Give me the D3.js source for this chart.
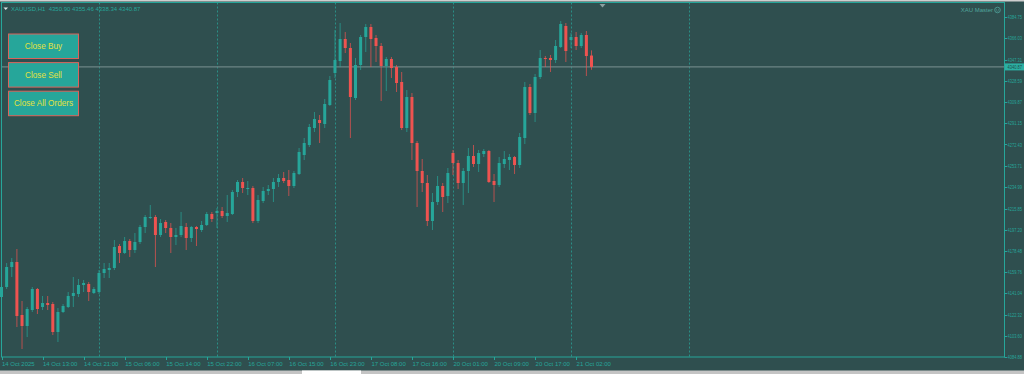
<!DOCTYPE html>
<html>
<head>
<meta charset="utf-8">
<script src="https://cdn.jsdelivr.net/npm/d3@7"></script>
<style>
html, body { margin: 0; padding: 0; background: #2f4f4f; overflow: hidden; }
svg { display: block; }
text { font-family: "Liberation Sans", "DejaVu Sans", sans-serif; }
</style>
</head>
<body>
<svg id="chart"></svg>
<script>
var W = 1024, H = 374;
var plot = { left: 1.5, top: 2.5, right: 1004.5, bottom: 357 };

var bg = "#2f4f4f", bull = "#26a69a", bear = "#ef5350", axisCol = "#26a69a";

// trading sessions shown on the time axis: day, first hour, last hour
var sessions = [
	["14 Oct", 5, 23], ["15 Oct", 1, 23], ["16 Oct", 1, 23], ["17 Oct", 1, 23],
	["20 Oct", 1, 23], ["21 Oct", 1, 23], ["22 Oct", 1, 23]
];

// XAUUSD H1 candles, 14 Oct 05:00 -> 21 Oct 05:00
var opens = [
	4137.84, 4146.67, 4164.31, 4168.72, 4121.96, 4112.25, 4126.37, 4144.90, 4129.02, 4132.55,
	4131.67, 4106.96, 4124.61, 4129.02, 4138.72, 4140.49, 4148.43, 4149.31, 4141.37, 4142.25,
	4159.02, 4161.67, 4163.43, 4182.84, 4176.67, 4187.25, 4179.31, 4186.37, 4199.61, 4207.55,
	4208.43, 4192.55, 4204.02, 4198.72, 4190.78, 4192.55, 4199.61, 4189.90, 4199.61, 4196.96,
	4201.37, 4211.08, 4211.96, 4213.72, 4209.31, 4211.08, 4230.49, 4239.31, 4233.14, 4234.02,
	4204.90, 4222.55, 4231.37, 4233.14, 4239.31, 4242.84, 4241.08, 4235.78, 4246.37, 4263.14,
	4271.96, 4286.96, 4294.02, 4290.49, 4307.25, 4335.49, 4346.08, 4365.49, 4357.55, 4313.43,
	4342.55, 4367.25, 4376.08, 4366.37, 4359.31, 4341.66, 4347.84, 4340.78, 4327.55, 4286.96,
	4314.31, 4273.72, 4249.02, 4238.43, 4204.90, 4221.67, 4235.78, 4226.96, 4264.90, 4256.08,
	4238.43, 4249.02, 4262.25, 4255.19, 4264.02, 4266.67, 4240.20, 4236.67, 4255.19, 4258.72,
	4261.37, 4254.31, 4278.14, 4323.14, 4300.19, 4331.96, 4348.72, 4348.72, 4346.96, 4358.43,
	4376.96, 4364.61, 4367.25, 4359.31, 4369.02, 4350.90
];
var highs = [
	4149.31, 4167.84, 4172.25, 4180.20, 4134.31, 4129.02, 4146.67, 4145.78, 4138.72, 4138.72,
	4133.43, 4128.14, 4131.67, 4142.25, 4155.49, 4153.73, 4152.84, 4151.08, 4146.67, 4161.67,
	4167.84, 4167.84, 4188.14, 4184.61, 4190.78, 4189.02, 4194.31, 4201.37, 4210.19, 4219.02,
	4210.19, 4206.67, 4205.78, 4203.14, 4198.72, 4212.84, 4203.14, 4200.49, 4200.49, 4204.90,
	4212.84, 4212.84, 4216.37, 4217.25, 4227.84, 4232.25, 4241.08, 4242.84, 4240.20, 4235.78,
	4227.84, 4234.90, 4236.67, 4242.84, 4246.37, 4248.14, 4249.90, 4249.02, 4269.31, 4278.14,
	4290.49, 4301.08, 4298.43, 4312.55, 4332.84, 4373.43, 4379.61, 4371.66, 4361.96, 4348.72,
	4369.02, 4378.72, 4378.72, 4369.02, 4361.96, 4349.61, 4349.61, 4342.55, 4336.37, 4320.49,
	4317.84, 4275.49, 4259.61, 4245.49, 4229.61, 4244.61, 4238.43, 4251.67, 4267.55, 4258.72,
	4251.67, 4269.31, 4271.96, 4267.55, 4268.43, 4267.55, 4246.37, 4261.37, 4266.67, 4264.02,
	4262.25, 4282.55, 4327.55, 4325.78, 4334.61, 4355.78, 4350.49, 4351.37, 4364.61, 4381.37,
	4379.61, 4370.78, 4371.66, 4370.78, 4372.55, 4355.46
];
var lows = [
	4135.20, 4144.90, 4155.49, 4111.37, 4091.96, 4102.55, 4124.61, 4122.84, 4126.37, 4126.37,
	4104.31, 4098.14, 4123.73, 4128.14, 4129.02, 4137.84, 4142.25, 4134.31, 4140.49, 4140.49,
	4154.61, 4154.61, 4161.67, 4167.84, 4175.78, 4173.14, 4176.67, 4184.61, 4194.31, 4206.67,
	4164.31, 4190.78, 4194.31, 4176.67, 4183.72, 4190.78, 4179.31, 4186.37, 4182.84, 4195.19,
	4200.49, 4204.02, 4198.72, 4207.55, 4204.02, 4210.19, 4226.08, 4229.61, 4227.84, 4203.14,
	4203.14, 4220.78, 4227.84, 4221.67, 4234.90, 4238.43, 4226.96, 4234.02, 4245.49, 4258.72,
	4270.19, 4283.43, 4273.72, 4286.96, 4306.37, 4331.08, 4340.78, 4353.14, 4278.14, 4311.66,
	4338.14, 4354.02, 4340.78, 4345.19, 4310.78, 4319.61, 4331.08, 4318.72, 4285.19, 4283.43,
	4258.72, 4217.25, 4230.49, 4200.49, 4196.96, 4219.02, 4212.84, 4220.78, 4245.49, 4233.14,
	4219.02, 4229.61, 4252.55, 4248.14, 4261.37, 4238.43, 4221.67, 4234.90, 4251.67, 4249.90,
	4246.37, 4251.67, 4272.84, 4298.43, 4292.25, 4330.19, 4340.78, 4336.37, 4344.31, 4357.55,
	4345.19, 4357.55, 4355.78, 4357.55, 4332.84, 4338.34
];
var closes = [
	4146.67, 4164.31, 4168.72, 4121.08, 4112.25, 4127.25, 4144.90, 4127.25, 4132.55, 4130.78,
	4106.96, 4124.61, 4129.90, 4138.72, 4141.37, 4148.43, 4150.20, 4142.25, 4144.90, 4159.02,
	4162.55, 4163.43, 4181.96, 4176.67, 4187.25, 4179.31, 4186.37, 4199.61, 4208.43, 4208.43,
	4192.55, 4203.14, 4198.72, 4190.78, 4192.55, 4200.49, 4189.90, 4199.61, 4197.84, 4201.37,
	4211.08, 4206.67, 4213.72, 4209.31, 4211.96, 4230.49, 4239.31, 4234.02, 4234.02, 4204.90,
	4223.43, 4231.37, 4233.14, 4239.31, 4242.84, 4240.20, 4235.78, 4247.25, 4265.78, 4273.72,
	4287.84, 4294.90, 4291.37, 4308.14, 4329.31, 4346.96, 4365.49, 4357.55, 4314.31, 4342.55,
	4367.25, 4376.08, 4365.49, 4359.31, 4341.66, 4347.84, 4339.90, 4326.66, 4286.96, 4314.31,
	4273.72, 4249.02, 4238.43, 4204.90, 4221.67, 4235.78, 4226.08, 4247.25, 4256.08, 4238.43,
	4249.02, 4262.25, 4255.19, 4264.90, 4266.67, 4239.31, 4236.67, 4256.08, 4259.61, 4261.37,
	4254.31, 4279.02, 4323.14, 4300.19, 4331.96, 4348.72, 4347.84, 4346.96, 4359.31, 4378.72,
	4354.90, 4367.25, 4359.31, 4369.02, 4350.49, 4340.87
];

var priceTicks = [
	4384.75, 4366.03, 4347.31, 4328.59, 4309.87, 4291.15, 4272.43, 4253.71, 4234.99,
	4215.85, 4197.20, 4178.48, 4159.76, 4141.04, 4122.32, 4103.60, 4084.88
];
var timeTicks = [
	"14 Oct 05:00", "14 Oct 13:00", "14 Oct 21:00", "15 Oct 06:00", "15 Oct 14:00",
	"15 Oct 22:00", "16 Oct 07:00", "16 Oct 15:00", "16 Oct 23:00", "17 Oct 08:00",
	"17 Oct 16:00", "20 Oct 01:00", "20 Oct 09:00", "20 Oct 17:00", "21 Oct 02:00"
];
var firstTickLabel = "14 Oct 2025";
var buttons = ["Close Buy", "Close Sell", "Close All Orders"];
var symbolTitle = "XAUUSD,H1";
var eaName = "XAU Master";

function pad(h) { return (h < 10 ? "0" : "") + h + ":00"; }

var barKeys = [];
sessions.forEach(function(s) {
	for (var h = s[1]; h <= s[2]; h++) barKeys.push(s[0] + " " + pad(h));
});

var candles = opens.map(function(o, i) {
	return { key: barKeys[i], o: o, h: highs[i], l: lows[i], c: closes[i] };
});

var barStep = 118 / 23;
var x = d3.scalePoint()
	.domain(barKeys)
	.range([plot.left, plot.left + (barKeys.length - 1) * barStep]);

var y = d3.scaleLinear()
	.domain([4084.9, 4384.9])
	.range([357, 17]);

var fmt = d3.format(".2f");

var svg = d3.select("#chart").attr("width", W).attr("height", H);

svg.append("rect").attr("width", W).attr("height", H).attr("fill", bg);

// top and bottom window strips
svg.append("rect").attr("x", 0).attr("y", 0).attr("width", W).attr("height", 1.5).attr("fill", "#cfcfcf");
svg.append("rect").attr("x", 0).attr("y", 370.5).attr("width", W).attr("height", 3.5).attr("fill", "#c4c4c4");
svg.append("rect").attr("x", 302).attr("y", 370.5).attr("width", 59).attr("height", 3.5).attr("fill", "#ffffff");

// daily grid lines at 01:00
var gridKeys = barKeys.filter(function(k) { return /01:00$/.test(k) && k.indexOf("14 Oct") < 0; });
svg.append("g")
	.selectAll("line")
	.data(gridKeys)
	.enter()
	.append("line")
	.attr("x1", function(d) { return Math.round(x(d)) + 0.5; })
	.attr("x2", function(d) { return Math.round(x(d)) + 0.5; })
	.attr("y1", plot.top)
	.attr("y2", plot.bottom)
	.attr("stroke", "#2a8f86")
	.attr("stroke-width", 1)
	.attr("stroke-dasharray", "2,2");

// bid line
var last = candles[candles.length - 1];
svg.append("line")
	.attr("x1", plot.left)
	.attr("x2", plot.right)
	.attr("y1", y(last.c))
	.attr("y2", y(last.c))
	.attr("stroke", "#6d8484")
	.attr("stroke-width", 1.2);

// candles
var cg = svg.append("g").attr("class", "candles");
var bw = 3;

cg.selectAll(".wick")
	.data(candles)
	.enter()
	.append("rect")
	.attr("class", "wick")
	.attr("x", function(d) { return x(d.key) - 0.5; })
	.attr("y", function(d) { return y(d.h); })
	.attr("width", 1)
	.attr("height", function(d) { return Math.max(1, y(d.l) - y(d.h)); })
	.attr("fill", function(d) { return d.c >= d.o ? bull : bear; })
	.attr("opacity", 0.7);

cg.selectAll(".body")
	.data(candles)
	.enter()
	.append("rect")
	.attr("class", "body")
	.attr("x", function(d) { return x(d.key) - bw / 2; })
	.attr("y", function(d) { return y(Math.max(d.o, d.c)); })
	.attr("width", bw)
	.attr("height", function(d) { return Math.max(1, Math.abs(y(d.o) - y(d.c))); })
	.attr("fill", function(d) { return d.c >= d.o ? bull : bear; });

// frame
svg.append("rect")
	.attr("x", plot.left)
	.attr("y", plot.top)
	.attr("width", plot.right - plot.left)
	.attr("height", plot.bottom - plot.top)
	.attr("fill", "none")
	.attr("stroke", axisCol)
	.attr("stroke-width", 1);

// price axis (labels squeezed into the narrow strip right of the frame)
var pa = svg.append("g").attr("class", "price-axis");
pa.selectAll("line")
	.data(priceTicks)
	.enter()
	.append("line")
	.attr("x1", plot.right)
	.attr("x2", plot.right + 2.5)
	.attr("y1", function(d) { return Math.round(y(d)) + 0.5; })
	.attr("y2", function(d) { return Math.round(y(d)) + 0.5; })
	.attr("stroke", axisCol);
pa.selectAll("text")
	.data(priceTicks)
	.enter()
	.append("text")
	.attr("x", plot.right + 3)
	.attr("y", function(d) { return y(d) + 2.1; })
	.attr("font-size", 5.8)
	.attr("textLength", 14.5)
	.attr("lengthAdjust", "spacingAndGlyphs")
	.attr("fill", axisCol)
	.text(fmt);

// current price tag
svg.append("rect")
	.attr("x", plot.right + 0.5)
	.attr("y", y(last.c) - 3.5)
	.attr("width", W - plot.right)
	.attr("height", 7)
	.attr("fill", "#2bb0a3");
svg.append("text")
	.attr("x", plot.right + 3)
	.attr("y", y(last.c) + 2.1)
	.attr("font-size", 5.8)
	.attr("textLength", 14.5)
	.attr("lengthAdjust", "spacingAndGlyphs")
	.attr("fill", "#1f4d49")
	.text(fmt(last.c));

// time axis
var ta = svg.append("g").attr("class", "time-axis");
ta.selectAll("line")
	.data(timeTicks)
	.enter()
	.append("line")
	.attr("x1", function(d) { return Math.round(x(d)) + 0.5; })
	.attr("x2", function(d) { return Math.round(x(d)) + 0.5; })
	.attr("y1", plot.bottom)
	.attr("y2", plot.bottom + 3)
	.attr("stroke", axisCol);
ta.selectAll("text")
	.data(timeTicks)
	.enter()
	.append("text")
	.attr("x", function(d) { return x(d) + 0.5; })
	.attr("y", 366)
	.attr("font-size", 6)
	.attr("fill", axisCol)
	.text(function(d, i) { return i === 0 ? firstTickLabel : d; });

// header
svg.append("path")
	.attr("d", "M3.5,7.5 L8,7.5 L5.75,10 Z")
	.attr("fill", "#dfe8e8");
svg.append("text")
	.attr("x", 11)
	.attr("y", 10.5)
	.attr("font-size", 6)
	.attr("fill", axisCol)
	.attr("xml:space", "preserve")
	.text(symbolTitle + "  " + [last.o, last.h, last.l, last.c].map(fmt).join(" "));

// chart shift marker
svg.append("path")
	.attr("d", "M599.5,4 L605.5,4 L602.5,7.5 Z")
	.attr("fill", "#8aa0a0");

// EA label
svg.append("text")
	.attr("x", 993)
	.attr("y", 12)
	.attr("text-anchor", "end")
	.attr("font-size", 6)
	.attr("fill", "#4fa59c")
	.text(eaName);
var smile = svg.append("g").attr("transform", "translate(997.5,10)");
smile.append("circle").attr("r", 2.8).attr("fill", "none").attr("stroke", "#4fa59c").attr("stroke-width", 0.8);
smile.append("circle").attr("cx", -1).attr("cy", -0.7).attr("r", 0.45).attr("fill", "#4fa59c");
smile.append("circle").attr("cx", 1).attr("cy", -0.7).attr("r", 0.45).attr("fill", "#4fa59c");
smile.append("path").attr("d", "M-1.3,0.7 Q0,1.9 1.3,0.7").attr("fill", "none").attr("stroke", "#4fa59c").attr("stroke-width", 0.6);

// buttons
var btn = svg.append("g")
	.selectAll("g")
	.data(buttons)
	.enter()
	.append("g")
	.attr("transform", function(d, i) { return "translate(8.5," + (34 + i * 28.6) + ")"; });
btn.append("rect")
	.attr("width", 70)
	.attr("height", 24.5)
	.attr("fill", "#26a69a")
	.attr("stroke", "#d9645c")
	.attr("stroke-width", 1);
btn.append("text")
	.attr("x", 35)
	.attr("y", 15.3)
	.attr("text-anchor", "middle")
	.attr("font-size", 8.2)
	.attr("fill", "#e3e23f")
	.text(function(d) { return d; });
</script>
</body>
</html>
